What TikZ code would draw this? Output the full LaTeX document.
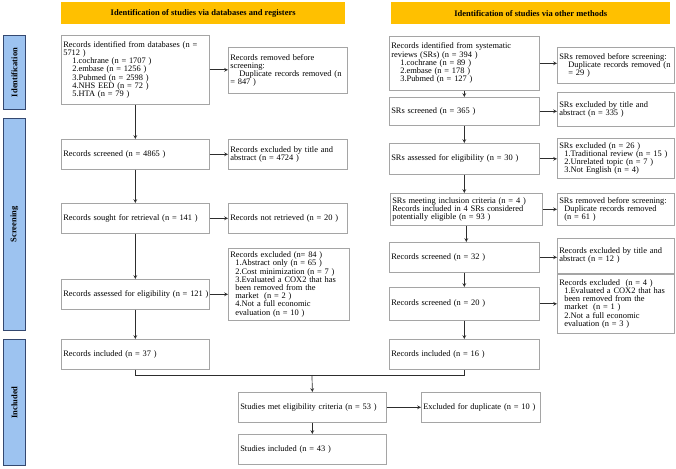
\documentclass[tikz,border=0pt]{standalone}
\usepackage{fontspec}
\setmainfont{Liberation Serif}
\usepackage{tikz}
\usetikzlibrary{positioning}
\usetikzlibrary{shapes.geometric, arrows}
\definecolor{hdrorange}{RGB}{255,192,0}
\definecolor{sideblue}{RGB}{157,195,240}
\definecolor{sideedge}{RGB}{52,72,112}
\definecolor{boxgray}{RGB}{165,165,165}
\definecolor{linegray}{RGB}{45,45,45}
\newcommand{\boxfont}{\fontsize{8.4}{8.2}\selectfont}
\tikzstyle{basebox} = [rectangle, anchor=north west, draw=boxgray, line width=0.6pt, inner xsep=2pt, align=left, font=\boxfont]
\tikzstyle{dbbox} = [basebox, minimum width=148pt, minimum height=30pt, text width=144pt]
\tikzstyle{dbside} = [basebox, minimum width=119pt, minimum height=30pt, text width=115pt]
\tikzstyle{srbox} = [basebox, minimum width=150pt, minimum height=30pt, text width=146pt]
\tikzstyle{srside} = [basebox, minimum width=117pt, minimum height=30pt, text width=113pt]
\tikzstyle{header} = [rectangle, anchor=north west, fill=hdrorange, minimum height=22pt, font=\bfseries\fontsize{8.5}{8.2}\selectfont]
\tikzstyle{stage} = [rectangle, anchor=north west, fill=sideblue, draw=sideedge, line width=0.9pt, minimum width=22pt]
\tikzstyle{stagetext} = [rotate=90, font=\bfseries\fontsize{8.5}{8.2}\selectfont]
\tikzstyle{arrow} = [draw=linegray, line width=0.7pt, ->, >=stealth]
\tikzstyle{line} = [draw=linegray, line width=0.7pt]

\begin{document}
\begin{tikzpicture}[x=1pt, y=-1pt]

	\useasboundingbox (0,0) rectangle (676,468);

	\node (hdrDb)[header, minimum width=284pt] at (61,2) {Identification of studies via databases and registers};
	\node (hdrOther)[header, minimum width=279pt] at (391,2) {Identification of studies via other methods};

	\node (idBar)[stage, minimum height=74pt] at (3,35) {};
	\node (idText)[stagetext] at (idBar) {Identification};
	\node (scrBar)[stage, minimum height=212pt] at (3,118) {};
	\node (scrText)[stagetext] at (scrBar) {Screening};
	\node (incBar)[stage, minimum height=126pt] at (3,339) {};
	\node (incText)[stagetext] at (incBar) {Included};

	% databases and registers
	\node (dbRec)[dbbox, minimum height=69pt] at (61,35) {Records identified from databases (n =\\5712 )\\
		\hspace*{9pt}1.cochrane (n = 1707 )\\\hspace*{9pt}2.embase (n = 1256 )\\\hspace*{9pt}3.Pubmed (n = 2598 )\\
		\hspace*{9pt}4.NHS EED (n = 72 )\\\hspace*{9pt}5.HTA (n = 79 )};

	\node (dbDup)[dbside, minimum height=46pt] at (228,47) {Records removed before\\screening:\\\hspace*{9pt}Duplicate records removed (n\\= 847 )};

	\node (dbScr)[dbbox] at (61,139) {Records screened (n = 4865 )};

	\node (dbTitle)[dbside] at (228,139) {Records excluded by title and\\abstract (n = 4724 )};

	\node (dbSought)[dbbox] at (61,203) {Records sought for retrieval (n = 141 )};

	\node (dbNotRet)[dbside] at (228,203) {Records not retrieved (n = 20 )};

	\node (dbElig)[dbbox] at (61,279) {\mbox{Records assessed for eligibility (n = 121 )}};

	\node (dbExcl)[dbside, minimum width=121pt, text width=117pt, minimum height=72pt] at (228,248) {Records excluded (n= 84 )\\
		\hspace*{5pt}1.Abstract only (n = 65 )\\\hspace*{5pt}2.Cost minimization (n = 7 )\\
		\hspace*{5pt}3.Evaluated a COX2 that has\\\hspace*{5pt}been removed from the\\\hspace*{5pt}market~ (n = 2 )\\
		\hspace*{5pt}4.Not a full economic\\\hspace*{5pt}evaluation (n = 10 )};

	\node (dbIncl)[dbbox] at (61,339) {Records included (n = 37 )};

	% other methods
	\node (srRec)[srbox, minimum height=54pt] at (389,36) {Records identified from systematic\\reviews (SRs) (n = 394 )\\
		\hspace*{9pt}1.cochrane (n = 89 )\\\hspace*{9pt}2.embase (n = 178 )\\\hspace*{9pt}3.Pubmed (n = 127 )};

	\node (srDup)[srside, minimum height=36pt] at (557,47) {SRs removed before screening:\\\hspace*{9pt}Duplicate records removed (n\\\hspace*{9pt}= 29 )};

	\node (srScr)[srbox, minimum height=28pt] at (389,97) {SRs screened (n = 365 )};

	\node (srTitle)[srside, minimum height=34pt] at (557,92) {SRs excluded by title and\\abstract (n = 335 )};

	\node (srElig)[srbox, minimum height=31pt] at (389,143) {SRs assessed for eligibility (n = 30 )};

	\node (srExcl)[srside, minimum height=40pt] at (557,138) {SRs excluded (n = 26 )\\
		\hspace*{5pt}1.Traditional review (n = 15 )\\\hspace*{5pt}2.Unrelated topic (n = 7 )\\\hspace*{5pt}3.Not English (n = 4)};

	\node (srMeet)[srbox, minimum width=152pt, text width=148pt, minimum height=32pt] at (390,193) {SRs meeting inclusion criteria (n = 4 )\\
		Records included in 4 SRs considered\\potentially eligible (n = 93 )};

	\node (srDup2)[srside, minimum height=32pt] at (557,193) {SRs removed before screening:\\\hspace*{5pt}Duplicate records removed\\\hspace*{5pt}(n = 61 )};

	\node (srScr2)[srbox] at (389,242) {Records screened (n = 32 )};

	\node (srTitle2)[srside, minimum height=35pt] at (557,238) {Records excluded by title and\\abstract (n = 12 )};

	\node (srScr3)[srbox, minimum height=33pt] at (389,287) {Records screened (n = 20 )};

	\node (srExcl2)[srside, minimum height=59pt] at (557,274) {Records excluded~ (n = 4 )\\
		\hspace*{5pt}1.Evaluated a COX2 that has\\\hspace*{5pt}been removed from the\\\hspace*{5pt}market~ (n = 1 )\\
		\hspace*{5pt}2.Not a full economic\\\hspace*{5pt}evaluation (n = 3 )};

	\node (srIncl)[srbox] at (389,339) {Records included (n = 16 )};

	% merged
	\coordinate (merge) at (312,375);

	\node (studMet)[dbbox] at (238,392) {Studies met eligibility criteria (n = 53 )};

	\node (exDup)[dbside] at (421,392) {Excluded for duplicate (n = 10 )};

	\node (studIncl)[dbbox] at (238,434) {Studies included (n = 43 )};



	\draw [arrow] (dbRec.east) -- (dbRec.east -| dbDup.west);
	\draw [arrow] (dbScr.east) -- (dbScr.east -| dbTitle.west);
	\draw [arrow] (dbSought.east) -- (dbSought.east -| dbNotRet.west);
	\draw [arrow] (dbElig.east) -- (dbElig.east -| dbExcl.west);

	\draw [arrow] (dbRec.south) -- (dbScr.north);
	\draw [arrow] (dbScr.south) -- (dbSought.north);
	\draw [arrow] (dbSought.south) -- (dbElig.north);
	\draw [arrow] (dbElig.south) -- (dbIncl.north);

	\draw [arrow] (srRec.east) -- (srRec.east -| srDup.west);
	\draw [arrow] (srScr.east) -- (srScr.east -| srTitle.west);
	\draw [arrow] (srElig.east) -- (srElig.east -| srExcl.west);
	\draw [arrow] (srMeet.east) -- (srMeet.east -| srDup2.west);
	\draw [arrow] (srScr2.east) -- (srScr2.east -| srTitle2.west);
	\draw [arrow] (srScr3.east) -- (srScr3.east -| srExcl2.west);

	\draw [arrow] (srRec.south) -- (srScr.north);
	\draw [arrow] (srScr.south) -- (srElig.north);
	\draw [arrow] (srElig.south) -- (srElig.south |- srMeet.north);
	\draw [arrow] (srMeet.south) -- (srMeet.south |- srScr2.north);
	\draw [arrow] (srScr2.south) -- (srScr3.north);
	\draw [arrow] (srScr3.south) -- (srIncl.north);

	\draw [line] (dbIncl.south) -- (dbIncl.south |- merge) -| (srIncl.south);
	\draw [arrow] (merge) -- (studMet.north);
	\draw [arrow] (studMet.south) -- (studIncl.north);
	\draw [arrow] (studMet.east) -- (exDup.west);

\end{tikzpicture}
\end{document}
